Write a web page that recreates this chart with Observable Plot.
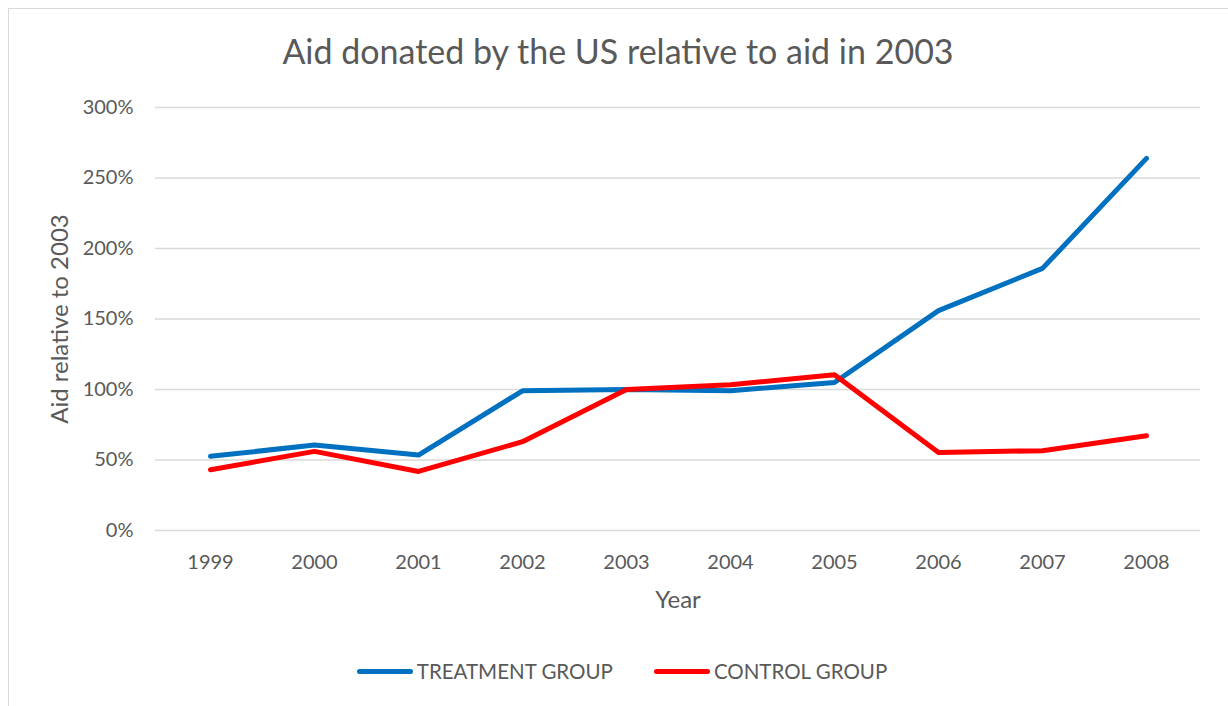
<!DOCTYPE html>
<html>
<head>
<meta charset="utf-8">
<script src="https://cdn.jsdelivr.net/npm/d3@7"></script>
<script src="https://cdn.jsdelivr.net/npm/@observablehq/plot@0.6"></script>
<style>
  html, body { margin: 0; padding: 0; background: #fff; }
  body { width: 1228px; height: 706px; position: relative; overflow: hidden; font-family: Lato, "Open Sans", sans-serif; color: #595959; }
  #frame { position: absolute; left: 8px; top: 8px; width: 1230px; height: 720px; border: 1.5px solid #d9d9d9; box-sizing: border-box; }
  #title { position: absolute; left: 0; width: 1236px; top: 30px; text-align: center; font-size: 34px; line-height: 42px; color: #595959; }
  #chart { position: absolute; left: 0; top: 90px; }
  #legend { position: absolute; top: 658px; left: 0; width: 1244px; display: flex; justify-content: center; gap: 41px; font-size: 20.5px; line-height: 26px; color: #595959; }
  .item { display: flex; align-items: center; }
  .sw { width: 56px; height: 5px; border-radius: 3px; margin-right: 4px; }
</style>
</head>
<body>
<div id="frame"></div>
<div id="title">Aid donated by the US relative to aid in 2003</div>
<div id="chart"></div>
<div id="legend"></div>
<script>
const years = ["1999","2000","2001","2002","2003","2004","2005","2006","2007","2008"];
const treatment = [52.6, 60.6, 53.5, 99.1, 100, 99.1, 105, 155.9, 185.9, 263.9];
const control = [43.1, 56.1, 41.9, 63, 100, 103.4, 110.5, 55.4, 56.6, 67.2];
const seriesNames = ["TREATMENT GROUP", "CONTROL GROUP"];
const seriesColors = ["#0070C0", "#FF0000"];
const yTicks = [0, 50, 100, 150, 200, 250, 300];
const yTitle = "Aid relative to 2003";
const xTitle = "Year";

const rows = [];
years.forEach((y, i) => {
  rows.push({year: y, value: treatment[i], series: seriesNames[0]});
  rows.push({year: y, value: control[i], series: seriesNames[1]});
});

const plot = Plot.plot({
  width: 1228,
  height: 530,
  marginLeft: 155,
  marginRight: 28,
  marginTop: 17,
  marginBottom: 90,
  style: {fontFamily: "Lato, 'Open Sans', sans-serif", fontSize: "20px", color: "#595959", background: "transparent"},
  x: {type: "point", domain: years, padding: 0.5},
  y: {domain: [0, 300], ticks: yTicks},
  color: {domain: seriesNames, range: seriesColors},
  marks: [
    Plot.ruleY(yTicks, {stroke: "#d9d9d9", strokeWidth: 1.5}),
    Plot.axisY({ticks: yTicks, tickSize: 0, tickPadding: 22, tickFormat: d => d + "%", label: null, fontSize: 20}),
    Plot.axisX({tickSize: 0, tickPadding: 24, label: null, fontSize: 20}),
    Plot.text([yTitle], {text: d => d, frameAnchor: "left", dx: -95, rotate: -90, textAnchor: "middle", lineAnchor: "middle", fontSize: 24, fill: "#595959"}),
    Plot.text([xTitle], {text: d => d, frameAnchor: "bottom", dy: 70, textAnchor: "middle", lineAnchor: "middle", fontSize: 24, fill: "#595959"}),
    Plot.line(rows, {x: "year", y: "value", stroke: "series", z: "series", strokeWidth: 5, strokeLinecap: "round", strokeLinejoin: "round"})
  ]
});
document.getElementById("chart").appendChild(plot);

const legend = document.getElementById("legend");
seriesNames.forEach((n, i) => {
  const it = document.createElement("div");
  it.className = "item";
  const sw = document.createElement("div");
  sw.className = "sw";
  sw.style.background = seriesColors[i];
  const t = document.createElement("span");
  t.textContent = n;
  it.appendChild(sw); it.appendChild(t);
  legend.appendChild(it);
});
</script>
</body>
</html>
